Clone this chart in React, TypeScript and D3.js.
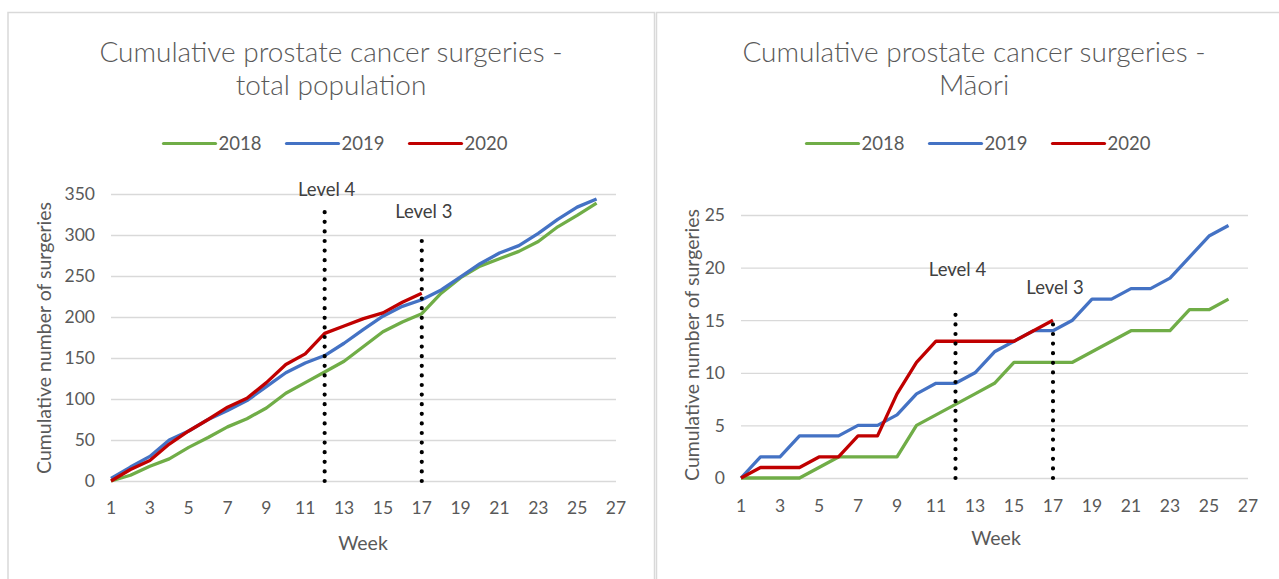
import React, { useEffect, useRef } from 'react';
import * as d3 from 'd3';

const weeks = [1, 2, 3, 4, 5, 6, 7, 8, 9, 10, 11, 12, 13, 14, 15, 16, 17, 18, 19, 20, 21, 22, 23, 24, 25, 26];
const seriesNames = ['2018', '2019', '2020'];
const seriesColors = ['#70AD47', '#4472C4', '#C00000'];
const xTicks = [1, 3, 5, 7, 9, 11, 13, 15, 17, 19, 21, 23, 25, 27];

// total population
const total2018 = [0, 7, 18, 27, 41, 53, 66, 76, 89, 107, 120, 133, 146, 164, 182, 194, 204, 229, 248, 262, 271, 280, 292, 310, 324, 339];
const total2019 = [3, 17, 30, 50, 61, 75, 86, 98, 115, 132, 144, 153, 168, 185, 201, 213, 221, 233, 249, 265, 278, 287, 302, 319, 334, 344];
const total2020 = [0, 14, 25, 45, 61, 75, 90, 101, 120, 142, 155, 180, 189, 198, 205, 218, 229];
const totalYTicks = [0, 50, 100, 150, 200, 250, 300, 350];
const totalLevels = [
  { label: 'Level 4', week: 12, top: 328, labelAt: 348 },
  { label: 'Level 3', week: 17, top: 294, labelAt: 321 },
];

// Māori
const maori2018 = [0, 0, 0, 0, 1, 2, 2, 2, 2, 5, 6, 7, 8, 9, 11, 11, 11, 11, 12, 13, 14, 14, 14, 16, 16, 17];
const maori2019 = [0, 2, 2, 4, 4, 4, 5, 5, 6, 8, 9, 9, 10, 12, 13, 14, 14, 15, 17, 17, 18, 18, 19, 21, 23, 24];
const maori2020 = [0, 1, 1, 1, 2, 2, 4, 4, 8, 11, 13, 13, 13, 13, 13, 14, 15];
const maoriYTicks = [0, 5, 10, 15, 20, 25];
const maoriLevels = [
  { label: 'Level 4', week: 12, top: 16.4, labelAt: 19.2 },
  { label: 'Level 3', week: 17, top: 14.7, labelAt: 17.5 },
];

const FONT = 'Lato, "Liberation Sans", sans-serif';
const TEXT = '#595959';

type Level = { label: string; week: number; top: number; labelAt: number };
type Layout = {
  box: [number, number, number, number];
  left: number; right: number; top: number; bottom: number;
  titleX: number; titleY: [number, number];
  legendX: number; legendY: number;
  yTitleX: number; yTitleY: number;
  xTitleX: number; xTitleY: number;
  xLabelY: number; yLabelX: number;
};

const drawChart = (
  root: d3.Selection<SVGGElement, unknown, null, undefined>,
  title: string[],
  series: number[][],
  yTicks: number[],
  levels: Level[],
  L: Layout
) => {
  const g = root.append('g');
  const [bx, by, bw, bh] = L.box;
  g.append('rect')
    .attr('x', bx).attr('y', by).attr('width', bw).attr('height', bh)
    .attr('fill', '#fff').attr('stroke', '#d9d9d9').attr('stroke-width', 1.5);

  const x = d3.scaleLinear().domain([1, 27]).range([L.left, L.right]);
  const y = d3.scaleLinear().domain([0, d3.max(yTicks) as number]).range([L.bottom, L.top]);

  // title
  title.forEach((t, i) => {
    g.append('text')
      .attr('x', L.titleX).attr('y', L.titleY[i])
      .attr('text-anchor', 'middle')
      .attr('font-family', FONT).attr('font-weight', 300).attr('font-size', 28)
      .attr('fill', TEXT).text(t);
  });

  // legend
  const itemW = 123;
  const lx0 = L.legendX - (itemW * seriesNames.length - 26) / 2;
  seriesNames.forEach((name, i) => {
    const lx = lx0 + i * itemW;
    g.append('line')
      .attr('x1', lx).attr('x2', lx + 52)
      .attr('y1', L.legendY).attr('y2', L.legendY)
      .attr('stroke', seriesColors[i]).attr('stroke-width', 3.2).attr('stroke-linecap', 'round');
    g.append('text')
      .attr('x', lx + 55).attr('y', L.legendY + 6.5)
      .attr('font-family', FONT).attr('font-size', 18.5)
      .attr('fill', TEXT).text(name);
  });

  // y grid + labels
  const yAxis = d3.axisLeft(y).tickValues(yTicks).tickSize(-(L.right - L.left)).tickPadding(0);
  const yg = g.append('g').attr('transform', `translate(${L.left},0)`).call(yAxis);
  yg.select('.domain').remove();
  yg.selectAll('line').attr('stroke', '#d9d9d9').attr('stroke-width', 1.3);
  yg.selectAll('text').remove();
  yTicks.forEach((v) => {
    g.append('text')
      .attr('x', L.yLabelX).attr('y', y(v)).attr('dy', '0.36em')
      .attr('text-anchor', 'end')
      .attr('font-family', FONT).attr('font-size', 17.5)
      .attr('fill', TEXT).text(v);
  });

  // x labels
  xTicks.forEach((w) => {
    g.append('text')
      .attr('x', x(w)).attr('y', L.xLabelY)
      .attr('text-anchor', 'middle')
      .attr('font-family', FONT).attr('font-size', 17.5)
      .attr('fill', TEXT).text(w);
  });

  // axis titles
  g.append('text')
    .attr('x', L.xTitleX).attr('y', L.xTitleY)
    .attr('text-anchor', 'middle')
    .attr('font-family', FONT).attr('font-size', 19.5)
    .attr('fill', TEXT).text('Week');
  g.append('text')
    .attr('transform', `translate(${L.yTitleX},${L.yTitleY}) rotate(-90)`)
    .attr('dy', '0.35em')
    .attr('text-anchor', 'middle')
    .attr('font-family', FONT).attr('font-size', 19.5)
    .attr('fill', TEXT).text('Cumulative number of surgeries');

  // series lines
  const line = d3
    .line<number>()
    .x((d, i) => x(weeks[i]))
    .y((d) => y(d));
  series.forEach((s, i) => {
    g.append('path')
      .attr('d', line(s))
      .attr('fill', 'none')
      .attr('stroke', seriesColors[i])
      .attr('stroke-width', 3.3)
      .attr('stroke-linejoin', 'round');
  });

  // lockdown level markers
  levels.forEach((lv) => {
    g.append('line')
      .attr('x1', x(lv.week)).attr('x2', x(lv.week))
      .attr('y1', y(0)).attr('y2', y(lv.top))
      .attr('stroke', '#000').attr('stroke-width', 4.2)
      .attr('stroke-linecap', 'round').attr('stroke-dasharray', '0 9.6');
    g.append('text')
      .attr('x', x(lv.week) + 2).attr('y', y(lv.labelAt))
      .attr('text-anchor', 'middle')
      .attr('font-family', FONT).attr('font-size', 18.5)
      .attr('fill', '#404040').text(lv.label);
  });
};

const App = () => {
  const svgRef = useRef<SVGSVGElement>(null);

  useEffect(() => {
    const svgEl = d3.select(svgRef.current);
    svgEl.selectAll('*').remove();
    const root = svgEl.append('g');
    root.append('rect').attr('width', 1279).attr('height', 579).attr('fill', '#fff');

    drawChart(root, ['Cumulative prostate cancer surgeries -', 'total population'],
      [total2018, total2019, total2020], totalYTicks, totalLevels, {
        box: [8, 12.5, 646.5, 600],
        left: 111, right: 616, top: 194, bottom: 481,
        titleX: 331, titleY: [62, 95],
        legendX: 335, legendY: 143.5,
        yTitleX: 44, yTitleY: 338,
        xTitleX: 363, xTitleY: 550,
        xLabelY: 514, yLabelX: 95,
      });

    drawChart(root, ['Cumulative prostate cancer surgeries -', 'Māori'],
      [maori2018, maori2019, maori2020], maoriYTicks, maoriLevels, {
        box: [656.5, 12.5, 700, 600],
        left: 741, right: 1248, top: 215, bottom: 478,
        titleX: 974, titleY: [62, 95],
        legendX: 978, legendY: 143.5,
        yTitleX: 692, yTitleY: 345,
        xTitleX: 996, xTitleY: 545,
        xLabelY: 512, yLabelX: 725,
      });
  }, []);

  return (
    <svg
      ref={svgRef}
      width={1279}
      height={579}
      style={{ position: 'absolute', left: 0, top: 0 }}
    />
  );
};

export default App;
